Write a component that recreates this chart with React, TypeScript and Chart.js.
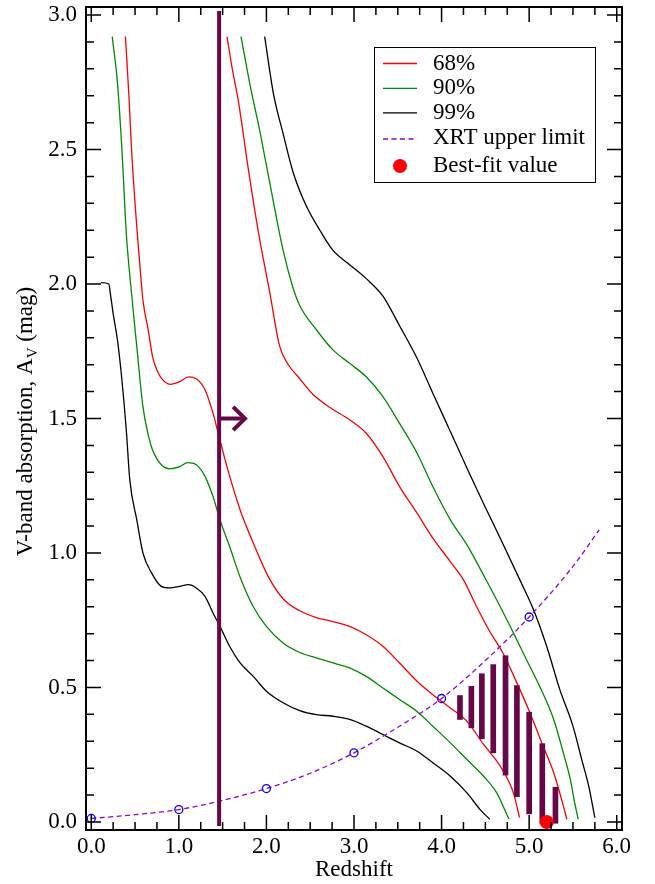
import { useEffect, useRef } from 'react';
import { Chart, registerables } from 'chart.js';

Chart.register(...registerables);

const FONT = '"Liberation Serif", "Times New Roman", serif';

// 68% contour (two branches)
const C68_LO_X = [0.39, 0.43, 0.46, 0.50, 0.525, 0.56, 0.59, 0.65, 0.70, 0.75, 0.80, 0.90, 1.01, 1.11, 1.20, 1.30, 1.39, 1.45, 1.55, 1.70, 1.85, 2.02, 2.19, 2.38, 2.57, 2.76, 2.95, 3.14, 3.33, 3.52, 3.72, 3.90, 4.10, 4.29, 4.48, 4.67, 4.82, 4.89];
const C68_LO_Y = [2.92, 2.70, 2.50, 2.30, 2.19, 2.05, 1.94, 1.83, 1.73, 1.68, 1.65, 1.627, 1.637, 1.655, 1.648, 1.606, 1.52, 1.445, 1.32, 1.16, 1.037, 0.913, 0.83, 0.785, 0.76, 0.745, 0.727, 0.696, 0.653, 0.591, 0.523, 0.473, 0.424, 0.374, 0.288, 0.207, 0.108, 0.016];
const C68_HI_X = [1.55, 1.61, 1.68, 1.79, 1.91, 2.04, 2.15, 2.25, 2.35, 2.53, 2.73, 2.95, 3.14, 3.33, 3.52, 3.72, 3.90, 4.10, 4.25, 4.40, 4.55, 4.70, 4.86, 5.01, 5.16, 5.28, 5.37, 5.43];
const C68_HI_Y = [2.92, 2.80, 2.68, 2.435, 2.19, 1.965, 1.77, 1.70, 1.66, 1.59, 1.54, 1.495, 1.445, 1.358, 1.247, 1.148, 1.055, 0.968, 0.90, 0.80, 0.708, 0.628, 0.517, 0.405, 0.281, 0.183, 0.084, 0.01];

// 90% contour
const C90_LO_X = [0.24, 0.30, 0.35, 0.40, 0.46, 0.52, 0.59, 0.65, 0.70, 0.80, 0.90, 1.01, 1.10, 1.20, 1.30, 1.39, 1.47, 1.58, 1.70, 1.85, 2.00, 2.19, 2.38, 2.57, 2.76, 2.95, 3.14, 3.33, 3.52, 3.72, 3.90, 4.10, 4.29, 4.48, 4.63, 4.72, 4.77];
const C90_LO_Y = [2.92, 2.745, 2.50, 2.19, 1.965, 1.767, 1.544, 1.44, 1.383, 1.328, 1.313, 1.321, 1.336, 1.328, 1.284, 1.21, 1.123, 1.024, 0.91, 0.80, 0.727, 0.665, 0.63, 0.61, 0.591, 0.573, 0.541, 0.498, 0.455, 0.411, 0.356, 0.294, 0.232, 0.170, 0.108, 0.046, 0.01];
const C90_HI_X = [1.71, 1.81, 1.93, 2.04, 2.19, 2.30, 2.38, 2.57, 2.76, 2.95, 3.14, 3.33, 3.52, 3.72, 3.90, 4.10, 4.29, 4.50, 4.67, 4.82, 4.97, 5.12, 5.28, 5.39, 5.47, 5.52, 5.56];
const C90_HI_Y = [2.92, 2.745, 2.56, 2.373, 2.126, 1.99, 1.92, 1.83, 1.755, 1.705, 1.655, 1.581, 1.482, 1.371, 1.247, 1.123, 1.03, 0.905, 0.80, 0.703, 0.603, 0.504, 0.381, 0.257, 0.158, 0.071, 0.01];

// 99% contour
const C99_LO_X = [0.11, 0.20, 0.22, 0.25, 0.30, 0.35, 0.40, 0.44, 0.52, 0.59, 0.69, 0.80, 0.90, 1.01, 1.11, 1.20, 1.30, 1.39, 1.47, 1.58, 1.70, 1.85, 2.00, 2.19, 2.38, 2.57, 2.76, 2.95, 3.14, 3.33, 3.52, 3.72, 3.90, 4.10, 4.29, 4.44, 4.55];
const C99_LO_Y = [2.005, 2.0, 1.96, 1.89, 1.79, 1.643, 1.457, 1.272, 1.123, 1.0, 0.925, 0.876, 0.870, 0.876, 0.882, 0.870, 0.838, 0.777, 0.727, 0.653, 0.591, 0.541, 0.486, 0.443, 0.414, 0.399, 0.393, 0.381, 0.356, 0.325, 0.294, 0.263, 0.220, 0.170, 0.108, 0.046, 0.01];
const C99_HI_X = [1.98, 2.08, 2.19, 2.31, 2.46, 2.61, 2.76, 2.95, 3.14, 3.33, 3.52, 3.72, 3.90, 4.10, 4.29, 4.48, 4.67, 4.875, 5.05, 5.20, 5.35, 5.50, 5.60, 5.68, 5.75];
const C99_HI_Y = [2.92, 2.708, 2.56, 2.41, 2.287, 2.20, 2.125, 2.072, 2.02, 1.955, 1.845, 1.724, 1.594, 1.452, 1.315, 1.183, 1.055, 0.913, 0.789, 0.653, 0.492, 0.356, 0.232, 0.133, 0.016];

// XRT upper limit curve and its marked points
const XRT_X = [0, 0.5, 1, 1.5, 2, 2.5, 3, 3.5, 4, 4.5, 5, 5.5, 5.8];
const XRT_Y = [0.013, 0.027, 0.046, 0.080, 0.124, 0.181, 0.257, 0.352, 0.459, 0.600, 0.762, 0.950, 1.086];
const XRT_PT_X = [0, 1, 2, 3, 4, 5];
const XRT_PT_Y = [0.013, 0.046, 0.124, 0.257, 0.459, 0.762];

// hatched allowed region (floating bars)
const HATCH_X = [4.21, 4.34, 4.46, 4.59, 4.73, 4.86, 5.00, 5.15, 5.30];
const HATCH_LO = [0.381, 0.350, 0.309, 0.257, 0.174, 0.094, 0.030, -0.005, -0.005];
const HATCH_HI = [0.470, 0.504, 0.551, 0.585, 0.618, 0.507, 0.408, 0.291, 0.129];

// lower redshift limit with arrow
const LIMIT_X = [1.46, 1.46];
const LIMIT_Y = [-0.015, 3.015];
const SHAFT_X = [1.46, 1.745];
const SHAFT_Y = [1.5, 1.5];
const HEAD_X = [1.62, 1.755, 1.62];
const HEAD_Y = [1.543, 1.5, 1.457];

// best fit
const BEST_X = [5.2];
const BEST_Y = [0.0];

const LEGEND_LABELS = ['68%', '90%', '99%', 'XRT upper limit', 'Best-fit value'];

const RED = '#ff0000';
const GREEN = 'rgb(0,139,0)';
const BLACK = '#000000';
const VIOLET = 'rgb(148,0,211)';
const MAROON = 'rgb(103,7,72)';
const BLUE = 'rgb(0,0,255)';

const pts = (xs: number[], ys: number[]) => xs.map((x, i) => ({ x, y: ys[i] }));

const curve = (label: string, xs: number[], ys: number[], color: string) => ({
  type: 'line' as const,
  label,
  data: pts(xs, ys),
  borderColor: color,
  borderWidth: 1.3,
  pointRadius: 0,
  cubicInterpolationMode: 'monotone',
  fill: false,
  order: 6,
});

const framePlugin = {
  id: 'frameTicks',
  afterDatasetsDraw(chart: any) {
    const { ctx, chartArea: a, scales } = chart;
    const xs = scales.x;
    const ys = scales.y;
    ctx.save();
    ctx.strokeStyle = '#000';
    ctx.lineWidth = 1.5;
    ctx.beginPath();
    for (let i = 0; i <= 24; i++) {
      const v = i * 0.25;
      const px = xs.getPixelForValue(v);
      const len = i % 4 === 0 ? 15 : 8;
      ctx.moveTo(px, a.bottom);
      ctx.lineTo(px, a.bottom - len);
      ctx.moveTo(px, a.top);
      ctx.lineTo(px, a.top + len);
    }
    for (let i = 0; i <= 30; i++) {
      const v = i * 0.1;
      const py = ys.getPixelForValue(v);
      const len = i % 5 === 0 ? 15 : 8;
      ctx.moveTo(a.left, py);
      ctx.lineTo(a.left + len, py);
      ctx.moveTo(a.right, py);
      ctx.lineTo(a.right - len, py);
    }
    ctx.stroke();
    ctx.lineWidth = 2;
    ctx.strokeRect(a.left, a.top, a.right - a.left, a.bottom - a.top);
    ctx.restore();
  },
  afterDraw(chart: any) {
    const { ctx, chartArea: a } = chart;
    // y-axis title with subscript
    ctx.save();
    const main = `23px ${FONT}`;
    const sub = `15px ${FONT}`;
    const p1 = 'V-band absorption, A';
    const s = 'V';
    const p2 = ' (mag)';
    ctx.font = main;
    const w1 = ctx.measureText(p1).width;
    const w2 = ctx.measureText(p2).width;
    ctx.font = sub;
    const ws = ctx.measureText(s).width;
    const total = w1 + ws + w2;
    ctx.translate(32, (a.top + a.bottom) / 2 + 3);
    ctx.rotate(-Math.PI / 2);
    ctx.fillStyle = '#000';
    ctx.textBaseline = 'alphabetic';
    let sx = -total / 2;
    ctx.font = main;
    ctx.fillText(p1, sx, 0);
    sx += w1;
    ctx.font = sub;
    ctx.fillText(s, sx, 5);
    sx += ws;
    ctx.font = main;
    ctx.fillText(p2, sx, 0);
    ctx.restore();

    // legend box
    ctx.save();
    const bx = 374.5, by = 47.5, bw = 221, bh = 135;
    ctx.fillStyle = '#fff';
    ctx.fillRect(bx, by, bw, bh);
    ctx.strokeStyle = '#000';
    ctx.lineWidth = 1;
    ctx.strokeRect(bx, by, bw, bh);
    const rows = [63.5, 88.3, 112.8, 137.5, 166];
    const styles = [
      { kind: 'line', color: RED, dash: [] as number[] },
      { kind: 'line', color: GREEN, dash: [] as number[] },
      { kind: 'line', color: BLACK, dash: [] as number[] },
      { kind: 'line', color: VIOLET, dash: [5, 3.5] },
      { kind: 'dot', color: RED, dash: [] as number[] },
    ];
    ctx.font = main;
    ctx.textBaseline = 'middle';
    ctx.textAlign = 'left';
    LEGEND_LABELS.forEach((lab, i) => {
      const y = rows[i];
      const st = styles[i];
      if (st.kind === 'line') {
        ctx.strokeStyle = st.color;
        ctx.lineWidth = 1.3;
        ctx.setLineDash(st.dash);
        ctx.beginPath();
        ctx.moveTo(383, i === 3 ? y + 1.5 : y);
        ctx.lineTo(417, i === 3 ? y + 1.5 : y);
        ctx.stroke();
        ctx.setLineDash([]);
      } else {
        ctx.fillStyle = st.color;
        ctx.beginPath();
        ctx.arc(400, y, 7, 0, Math.PI * 2);
        ctx.fill();
      }
      ctx.fillStyle = '#000';
      ctx.fillText(lab, 433, y);
    });
    ctx.restore();
  },
};

export default function App() {
  const ref = useRef<HTMLCanvasElement>(null);
  useEffect(() => {
    if (!ref.current) return;
    const tickFont = { family: FONT, size: 23 };
    const chart = new Chart(ref.current, {
      type: 'line',
      data: {
        datasets: [
          {
            type: 'scatter',
            label: LEGEND_LABELS[4],
            data: pts(BEST_X, BEST_Y),
            pointRadius: 7,
            pointBackgroundColor: RED,
            pointBorderWidth: 0,
            borderColor: RED,
            showLine: false,
            order: 0,
          } as any,
          {
            type: 'line',
            label: 'limit',
            data: pts(LIMIT_X, LIMIT_Y),
            borderColor: MAROON,
            borderWidth: 4,
            pointRadius: 0,
            order: 1,
          },
          {
            type: 'line',
            label: 'arrow shaft',
            data: pts(SHAFT_X, SHAFT_Y),
            borderColor: MAROON,
            borderWidth: 4,
            pointRadius: 0,
            order: 1,
          },
          {
            type: 'line',
            label: 'arrow head',
            data: pts(HEAD_X, HEAD_Y),
            borderColor: MAROON,
            borderWidth: 4,
            borderJoinStyle: 'miter',
            pointRadius: 0,
            order: 1,
          },
          {
            type: 'bar',
            label: 'allowed region',
            data: HATCH_X.map((x, i) => ({ x, y: [HATCH_LO[i], HATCH_HI[i]] })),
            backgroundColor: MAROON,
            borderWidth: 0,
            borderSkipped: false,
            barThickness: 5,
            order: 2,
          } as any,
          {
            type: 'scatter',
            label: 'XRT points',
            data: pts(XRT_PT_X, XRT_PT_Y),
            pointRadius: 4,
            pointBorderWidth: 1.3,
            pointBorderColor: BLUE,
            pointBackgroundColor: 'rgba(0,0,0,0)',
            showLine: false,
            order: 3,
          } as any,
          {
            type: 'line',
            label: LEGEND_LABELS[3],
            data: pts(XRT_X, XRT_Y),
            borderColor: VIOLET,
            borderWidth: 1.3,
            borderDash: [5, 3.5],
            pointRadius: 0,
            cubicInterpolationMode: 'monotone',
            order: 4,
          },
          curve(LEGEND_LABELS[0], C68_LO_X, C68_LO_Y, RED),
          curve(LEGEND_LABELS[0], C68_HI_X, C68_HI_Y, RED),
          curve(LEGEND_LABELS[1], C90_LO_X, C90_LO_Y, GREEN),
          curve(LEGEND_LABELS[1], C90_HI_X, C90_HI_Y, GREEN),
          curve(LEGEND_LABELS[2], C99_LO_X, C99_LO_Y, BLACK),
          curve(LEGEND_LABELS[2], C99_HI_X, C99_HI_Y, BLACK),
        ] as any,
      },
      options: {
        responsive: false,
        animation: false,
        devicePixelRatio: 1,
        layout: { padding: { left: 0, right: 33, top: 6, bottom: 0 } },
        plugins: { legend: { display: false }, tooltip: { enabled: false } },
        scales: {
          x: {
            type: 'linear',
            min: -0.06,
            max: 6.06,
            offset: false,
            grid: { display: false, drawTicks: false },
            border: { display: false },
            ticks: {
              stepSize: 1,
              includeBounds: false,
              autoSkip: false,
              maxRotation: 0,
              padding: 3,
              color: '#000',
              font: tickFont,
              callback: (v: any) => Number(v).toFixed(1),
            },
            title: {
              display: true,
              text: 'Redshift',
              color: '#000',
              font: tickFont,
              padding: 0,
            },
            afterFit: (s: any) => {
              s.height = 54;
              s.paddingLeft = 0;
              s.paddingRight = 0;
            },
          },
          y: {
            type: 'linear',
            min: -0.03,
            max: 3.03,
            grid: { display: false, drawTicks: false },
            border: { display: false },
            ticks: {
              stepSize: 0.5,
              includeBounds: false,
              autoSkip: false,
              padding: 9,
              color: '#000',
              font: tickFont,
              callback: (v: any) => Number(v).toFixed(1),
            },
            afterFit: (s: any) => {
              s.width = 86;
              s.paddingTop = 0;
              s.paddingBottom = 0;
            },
          },
        },
      } as any,
      plugins: [framePlugin],
    });
    return () => chart.destroy();
  }, []);
  return (
    <div style={{ position: 'absolute', left: 0, top: 0, width: 655, height: 884, background: '#fff' }}>
      <canvas ref={ref} width={655} height={884} style={{ display: 'block' }} />
    </div>
  );
}
